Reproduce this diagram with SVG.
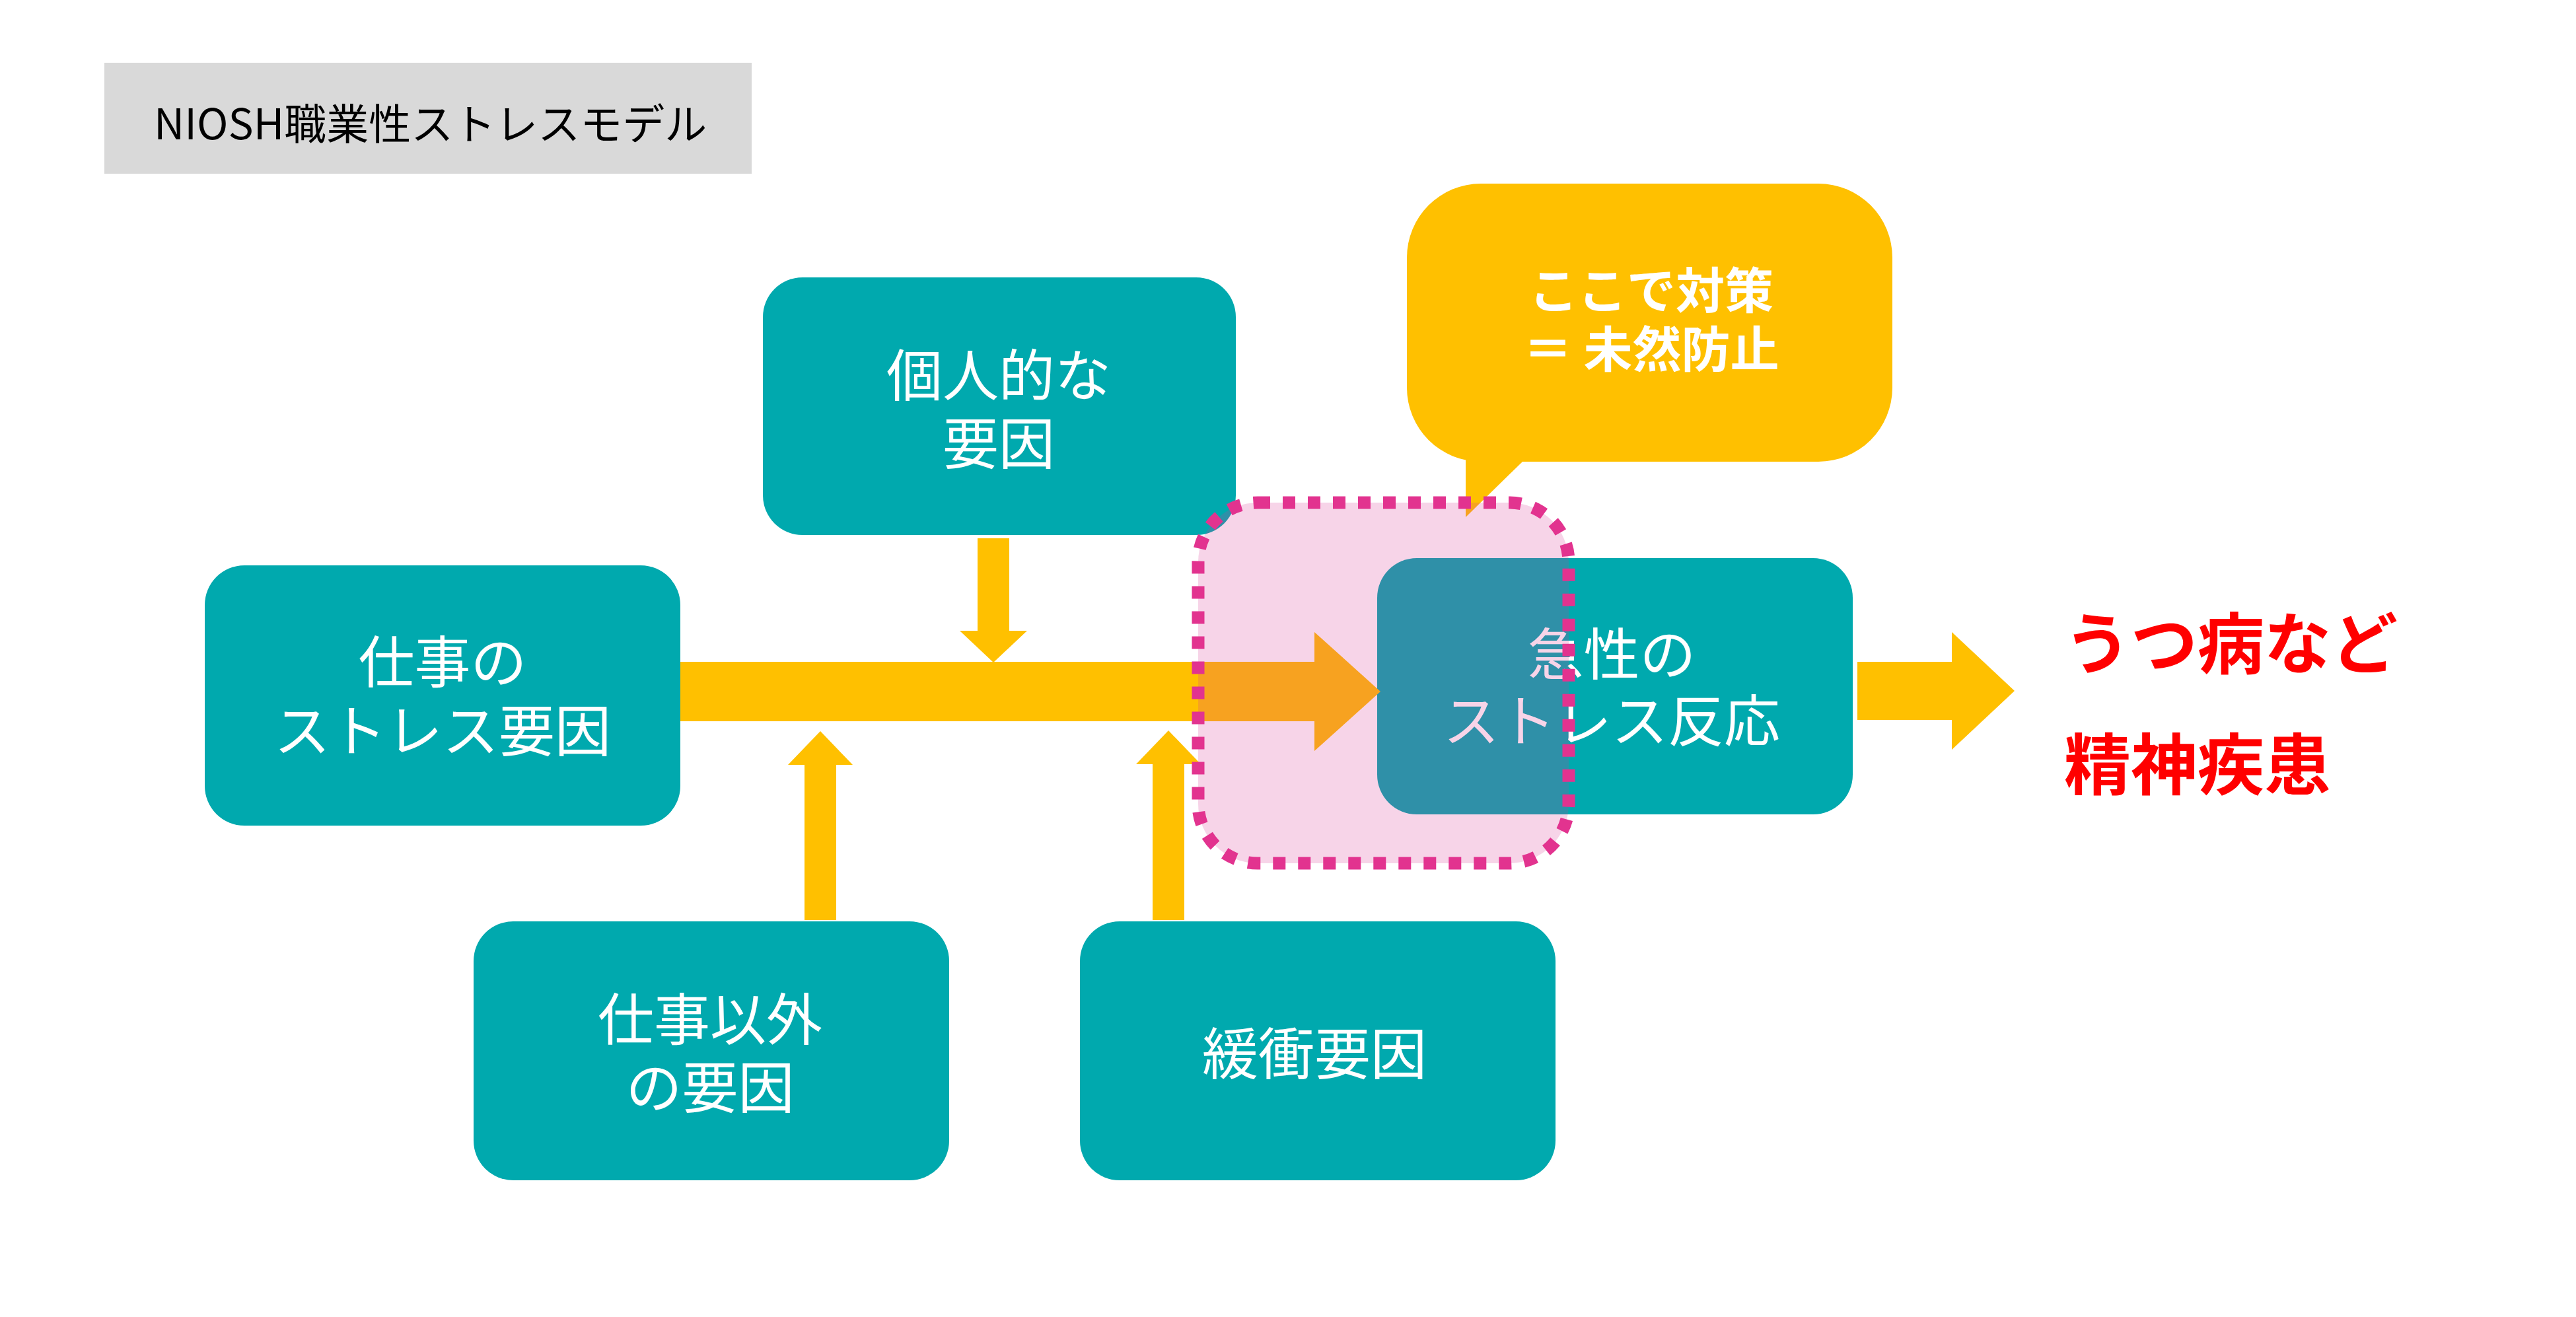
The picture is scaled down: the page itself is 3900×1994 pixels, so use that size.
<svg xmlns="http://www.w3.org/2000/svg" width="3900" height="1994" viewBox="0 0 3900 1994">
<style>
.node{fill:#00A9AE}
.nt{fill:#FFFFFF;font-family:"Noto Sans CJK JP","Noto Sans",sans-serif;font-size:85px;text-anchor:middle}
.arrow{fill:#FFC000}
.red{fill:#FF0000;font-family:"Noto Sans CJK JP","Noto Sans",sans-serif;font-size:101px;font-weight:bold}
.ct{fill:#FFFFFF;font-family:"Noto Sans CJK JP","Noto Sans",sans-serif;font-size:74px;font-weight:bold;text-anchor:middle}
</style>
<rect width="3900" height="1994" fill="#FFFFFF"/>
<g id="title">
<rect x="158" y="95" width="980" height="168" fill="#D9D9D9"/>
<text x="233" y="211" font-family="Noto Sans CJK JP, Noto Sans, sans-serif" font-size="64" fill="#000000">NIOSH職業性ストレスモデル</text>
</g>
<g id="node-work-stress">
<rect class="node" x="310" y="856" width="720" height="394" rx="60"/>
<text class="nt" x="670" y="1034">仕事の<tspan x="670" dy="104">ストレス要因</tspan></text>
</g>
<g id="node-personal">
<rect class="node" x="1155" y="420" width="716" height="390" rx="60"/>
<text class="nt" x="1512" y="600">個人的な<tspan x="1512" dy="103">要因</tspan></text>
</g>
<g id="node-nonwork">
<rect class="node" x="717" y="1395" width="720" height="392" rx="60"/>
<text class="nt" x="1075" y="1575">仕事以外<tspan x="1075" dy="103">の要因</tspan></text>
</g>
<g id="node-buffer">
<rect class="node" x="1635" y="1395" width="720" height="392" rx="60"/>
<text class="nt" x="1990" y="1627">緩衝要因</text>
</g>
<g id="node-acute">
<rect class="node" x="2085" y="845" width="720" height="388" rx="60"/>
<text class="nt" x="2440" y="1022">急性の<tspan x="2440" dy="101">ストレス反応</tspan></text>
</g>
<g id="connectors">
<polygon class="arrow" points="1030,1002 1990,1002 1990,957 2090,1047 1990,1137 1990,1092 1030,1092"/>
<polygon class="arrow" points="1480,815 1528,815 1528,955 1555,955 1504,1003 1453,955 1480,955"/>
<polygon class="arrow" points="1218,1393 1218,1158 1193,1158 1242,1107 1291,1158 1266,1158 1266,1393"/>
<polygon class="arrow" points="1745,1393 1745,1157 1720,1157 1769,1106 1818,1157 1793,1157 1793,1393"/>
<polygon class="arrow" points="2812,1002 2955,1002 2955,957 3050,1046 2955,1135 2955,1090 2812,1090"/>
</g>
<g id="outcome">
<text class="red" x="3125" y="1012">うつ病など</text>
<text class="red" x="3125" y="1195">精神疾患</text>
</g>
<g id="callout">
<rect x="2130" y="278" width="735" height="421" rx="112" fill="#FFC000"/>
<polygon points="2219,690 2305,690 2305,699 2219,783" fill="#FFC000"/>
<text class="ct" x="2500" y="467">ここで対策<tspan x="2500" dy="89">＝ 未然防止</tspan></text>
</g>
<g id="focus-area">
<rect x="1814" y="761" width="561" height="546" rx="90" fill="#DA3794" fill-opacity="0.216"/>
<rect x="1814" y="761" width="561" height="546" rx="90" fill="none" stroke="#E2338F" stroke-width="19" stroke-dasharray="19 19"/>
</g>
</svg>
